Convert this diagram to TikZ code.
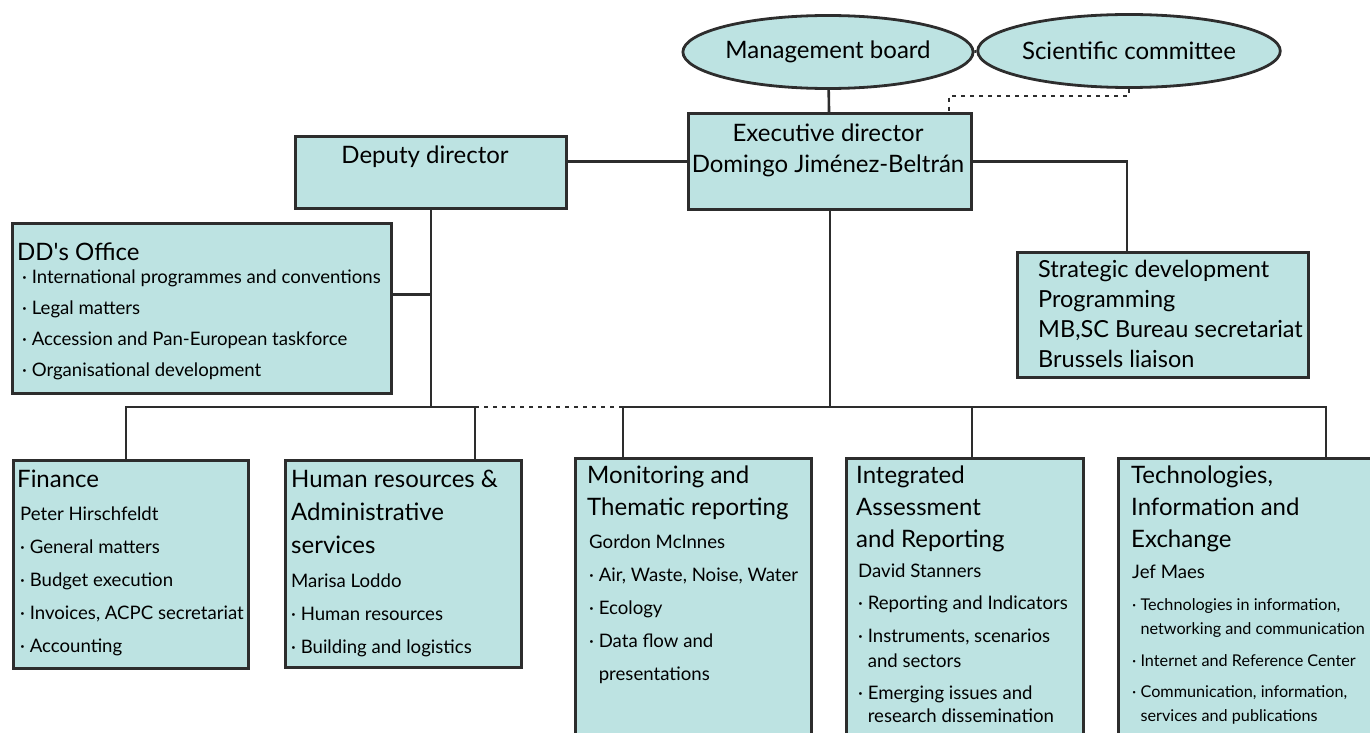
\documentclass[tikz,border=0pt]{standalone}
\usepackage{fontspec}
\setmainfont{Lato}
\usetikzlibrary{shapes.geometric}
\definecolor{unitfill}{RGB}{189,227,226}
\definecolor{rule}{RGB}{45,45,45}

\begin{document}
\begin{tikzpicture}[x=1pt, y=-1pt,
    unit/.style={draw=rule, line width=2.8pt, fill=unitfill, inner sep=0pt, anchor=north west},
    board/.style={ellipse, draw=rule, line width=2.8pt, fill=unitfill, inner sep=0pt,
      font=\fontsize{24}{28}\selectfont},
    link/.style={draw=rule, line width=2.6pt},
    dots/.style={link, dash pattern=on 4pt off 5pt},
    head/.style={inner sep=0pt, anchor=base west, font=\fontsize{24}{28}\selectfont},
    mid/.style={inner sep=0pt, anchor=base west, font=\fontsize{23.5}{26}\selectfont},
    body/.style={inner sep=0pt, anchor=base west, font=\fontsize{18.6}{22}\selectfont},
    small/.style={inner sep=0pt, anchor=base west, font=\fontsize{16.2}{20}\selectfont}]

  \useasboundingbox (0,0) rectangle (1370,733);
  \clip (0,0) rectangle (1370,733);

  \node[board, minimum width=283pt, minimum height=73pt] (mb) at (828,52) {Management board};
  \node[board, minimum width=272pt, minimum height=73pt] (sc) at (1129,51) {Scientific committee};

  \node[unit, minimum width=283pt, minimum height=96pt] (exec) at (687,112) {};
  \node[unit, minimum width=271pt, minimum height=72pt] (deputy) at (294,135) {};
  \node[unit, minimum width=379pt, minimum height=170pt] (dd) at (11,222) {};
  \node[unit, minimum width=291pt, minimum height=125pt] (strat) at (1016,251) {};
  \node[unit, minimum width=235pt, minimum height=208pt] (fin) at (12,459) {};
  \node[unit, minimum width=236pt, minimum height=207pt] (hr) at (284,459) {};
  \node[unit, minimum width=236pt, minimum height=300pt] (mon) at (574,457) {};
  \node[unit, minimum width=237pt, minimum height=300pt] (int) at (845,457) {};
  \node[unit, minimum width=280pt, minimum height=300pt] (tech) at (1117,457) {};

  \coordinate (busA) at (126,407);
  \coordinate (busB) at (475,407);
  \coordinate (busC) at (623,407);
  \coordinate (busI) at (972,407);
  \coordinate (busD) at (1326,407);

  \draw[link] (mb) -- (exec);
  \draw[dots] (mb) -- (sc);
  \draw[dots] (sc.south) -- ++(0,7) -| ([xshift=-24pt]exec.north east);
  \draw[link] (deputy.east |- exec.west) -- (exec.west);
  \draw[link] (exec.east) -| ([xshift=-36pt]strat.north);
  \draw[link] ([yshift=14pt]dd.east) -- ([yshift=14pt]dd.east -| deputy.south);
  \draw[link] (deputy.south) -- (deputy.south |- busA);
  \draw[link] (exec.south) -- (exec.south |- busC);
  \draw[link] (fin.north -| busA) -- (busA) -- (busB) -- (hr.north -| busB);
  \draw[dots] (busB) -- (busC);
  \draw[link] (mon.north -| busC) -- (busC) -- (busD) -- (tech.north -| busD);
  \draw[link] (busI) -- (int.north -| busI);

  \node[head, anchor=base] (exec-1) at (828,142) {Executive director};
  \node[head, anchor=base] (exec-2) at (828,172) {Domingo Jiménez-Beltrán};
  \node[head, anchor=base] (deputy-1) at (425,163) {Deputy director};

  \node[head] (dd-head) at (17,260) {DD\textquotesingle s Office};
  \foreach \t [count=\i] in {International programmes and conventions, Legal matters,
      Accession and Pan-European taskforce, Organisational development}
    \node[body] (dd-\i) at (22,252+31*\i) {· \t};

  \foreach \t [count=\i] in {Strategic development, Programming,
      {MB,SC Bureau secretariat}, Brussels liaison}
    \node[mid] (strat-\i) at (1038,247+30*\i) {\t};

  \node[head] (fin-head) at (17,487) {Finance};
  \foreach \t [count=\i] in {Peter Hirschfeldt, · General matters, · Budget execution,
      {· Invoices, ACPC secretariat}, · Accounting}
    \node[body] (fin-\i) at (20,487+33*\i) {\t};

  \foreach \t [count=\i] in {Human resources \&, Administrative, services}
    \node[head] (hr-h\i) at (291,454+33*\i) {\t};
  \foreach \t [count=\i] in {Marisa Loddo, · Human resources, · Building and logistics}
    \node[body] (hr-\i) at (291,554+33*\i) {\t};

  \foreach \t [count=\i] in {Monitoring and, Thematic reporting}
    \node[head] (mon-h\i) at (587,451+32*\i) {\t};
  \foreach \t [count=\i] in {Gordon McInnes, {· Air, Waste, Noise, Water}, · Ecology,
      · Data flow and, \hphantom{·~}presentations}
    \node[body] (mon-\i) at (589,515+33*\i) {\t};

  \foreach \t [count=\i] in {Integrated, Assessment, and Reporting}
    \node[head] (int-h\i) at (856,451+32*\i) {\t};
  \foreach \y/\t [count=\i] in {577/David Stanners, 609/· Reporting and Indicators,
      642/{· Instruments, scenarios}, 667/\hphantom{·~}and sectors,
      699/· Emerging issues and, 722/\hphantom{·~}research dissemination}
    \node[body] (int-\i) at (858,\y) {\t};

  \foreach \t [count=\i] in {{Technologies,}, Information and, Exchange}
    \node[head] (tech-h\i) at (1131,451+32*\i) {\t};
  \node[body] (tech-1) at (1132,578) {Jef Maes};
  \foreach \y/\t [count=\i from 2] in {610/{· Technologies in information,},
      634/\hphantom{·~}networking and communication, 666/· Internet and Reference Center,
      697/{· Communication, information,}, 721/\hphantom{·~}services and publications}
    \node[small] (tech-\i) at (1132,\y) {\t};
\end{tikzpicture}
\end{document}
